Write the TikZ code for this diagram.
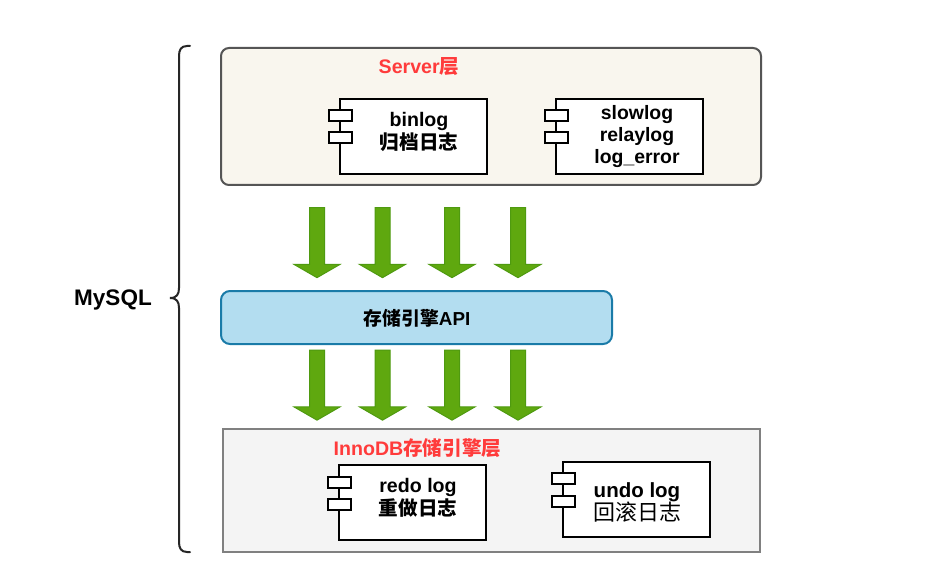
\documentclass[tikz,border=0pt]{standalone}
\usepackage{fontspec}
\setmainfont{Liberation Sans}
\newfontfamily\cjkbold{Noto Sans CJK SC Bold}
\newfontfamily\cjkreg{Noto Sans CJK SC}
\usetikzlibrary{shapes.arrows}
\definecolor{layerfill}{HTML}{F9F6EE}
\definecolor{layerline}{HTML}{555555}
\definecolor{grayfill}{HTML}{F4F4F4}
\definecolor{grayline}{HTML}{808080}
\definecolor{apifill}{HTML}{B3DDF0}
\definecolor{apiline}{HTML}{1A7BA8}
\definecolor{arrowfill}{HTML}{5FA80F}
\definecolor{arrowline}{HTML}{4F9A10}
\definecolor{titlered}{HTML}{FF3B3B}
\tikzset{
  box/.style={anchor=north west,inner sep=0pt,outer sep=0pt},
  roundlayer/.style={box,draw=layerline,fill=layerfill,line width=2pt,rounded corners=8pt},
  graylayer/.style={box,draw=grayline,fill=grayfill,line width=2pt},
  apibox/.style={box,draw=apiline,fill=apifill,line width=2pt,rounded corners=9pt},
  comp/.style={box,draw=black,fill=white,line width=2pt,minimum width=147pt,minimum height=75pt},
  tab/.style={box,draw=black,fill=white,line width=2pt,minimum width=23pt,minimum height=11pt},
  txt/.style={inner sep=0pt,font=\fontsize{19.6}{23}\selectfont\bfseries,align=center,text=black},
  title/.style={inner sep=0pt,font=\fontsize{19.6}{23}\selectfont\bfseries,text=titlered},
  flow/.style={single arrow,draw=arrowline,fill=arrowfill,line width=1pt,inner sep=7pt,
    minimum width=46pt,minimum height=70pt,single arrow head extend=15.5pt,
    single arrow tip angle=120,single arrow head indent=0pt,shape border rotate=270,anchor=center},
}
\begin{document}
\begin{tikzpicture}[x=1pt,y=-1pt]
\useasboundingbox (0,0) rectangle (930,583);
\fill[white] (0,0) rectangle (930,583);

% layers
\node[roundlayer,minimum width=540pt,minimum height=137pt] (server) at (221,48) {};
\node[graylayer,minimum width=537pt,minimum height=123pt] (inno) at (223,429) {};
\node[apibox,minimum width=391pt,minimum height=53pt] (api) at (221,291) {};

% titles
\node[title] (servert) at (419,67) {Server{\cjkbold 层}};
\node[title] (innot) at (417.5,448) {InnoDB{\cjkbold 存储引擎层}};
\node[txt,font=\fontsize{18.8}{23}\selectfont\bfseries] (apit) at (417,318) {{\cjkbold 存储引擎}API};

% components
\node[comp] (binlog) at (340,99) {};
\node[tab] (bt1) at (329,110) {};
\node[tab] (bt2) at (329,132) {};
\node[txt] (bintxt) at (419,132) {binlog\\{\cjkbold 归档日志}};

\node[comp] (slow) at (556,99) {};
\node[tab] (st1) at (545,110) {};
\node[tab] (st2) at (545,132) {};
\node[txt,font=\fontsize{19.4}{22}\selectfont\bfseries] (slowtxt) at (637,137) {slowlog\\relaylog\\log\_error};

\node[comp] (redo) at (339,465) {};
\node[tab] (rt1) at (328,477) {};
\node[tab] (rt2) at (328,499) {};
\node[txt] (redotxt) at (418,498) {redo log\\{\cjkbold 重做日志}};

\node[comp] (undo) at (563,462) {};
\node[tab] (ut1) at (552,473) {};
\node[tab] (ut2) at (552,496) {};
\node[txt,font=\fontsize{20.5}{23}\selectfont\bfseries] (undotxt) at (637,502) {undo log\\{\cjkreg\mdseries\fontsize{22}{23}\selectfont 回滚日志}};

% block arrows
\foreach \n/\x in {a/317,b/382.5,c/452,d/518}{
  \node[flow] (top\n) at (\x,240.5) {};
  \node[flow] (bot\n) at (\x,383) {};
}

% brace
\coordinate (bracetop) at (190,46);
\coordinate (bracetip) at (170,298);
\coordinate (bracebot) at (190,552);
\draw[line width=2pt,draw=black!85,line cap=round]
  (bracetop) -- (187,46) .. controls (181,46) and (179,50) .. (179,56)
  -- (179,288) .. controls (179,294) and (177,298) .. (bracetip)
  .. controls (177,298) and (179,302) .. (179,308)
  -- (179,542) .. controls (179,548) and (181,552) .. (187,552) -- (bracebot);

\node[inner sep=0pt,font=\fontsize{22.5}{26}\selectfont\bfseries] (mysql) at (113,300) {MySQL};
\end{tikzpicture}
\end{document}
